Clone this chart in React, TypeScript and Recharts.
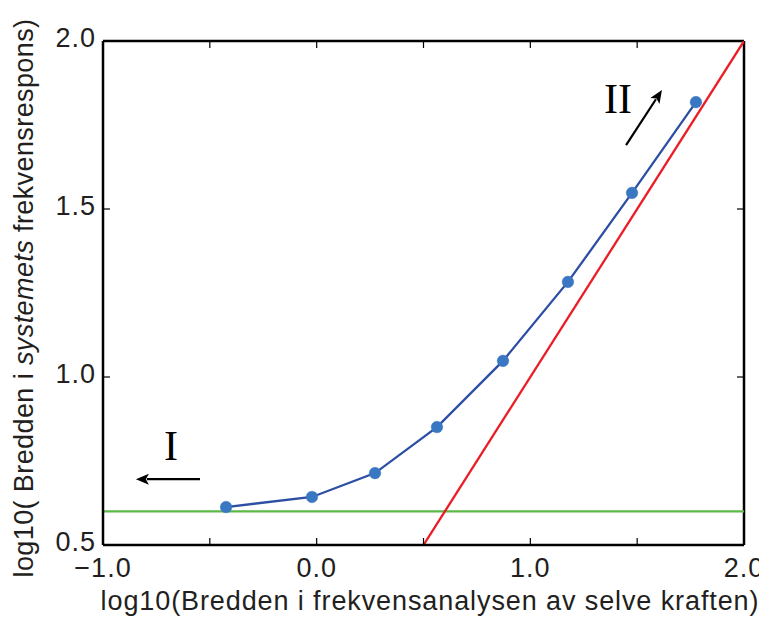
import React from 'react';
import { LineChart, Line, XAxis, YAxis, ReferenceLine, ReferenceDot } from 'recharts';

const measuredX = [-0.424, -0.022, 0.273, 0.563, 0.872, 1.176, 1.476, 1.775];
const measuredY = [0.613, 0.643, 0.714, 0.851, 1.048, 1.283, 1.548, 1.818];
const identityX = [0.5, 2.0];
const identityY = [0.5, 2.0];
const floorLevel = 0.6;
const xTicks = [-1, -0.5, 0, 0.5, 1, 1.5, 2];
const xLabelTicks = [-1, 0, 1, 2];
const yTicks = [0.5, 1.0, 1.5, 2.0];
const xMax = 2;
const yMax = 2;
const arrowI = { from: [-0.546, 0.696], to: [-0.846, 0.696], label: 'I', labelAt: [-0.682, 0.753] };
const arrowII = { from: [1.448, 1.69], to: [1.616, 1.854], label: 'II', labelAt: [1.41, 1.786] };

const measured = measuredX.map((x, i) => ({ x, y: measuredY[i] }));
const identity = identityX.map((x, i) => ({ x, y: identityY[i] }));

const SANS = "'Liberation Sans', Arial, Helvetica, sans-serif";
const SERIF = "'Liberation Serif', 'Times New Roman', serif";
const TXT = '#231f20';
const fmt = (v: number) => v.toFixed(1).replace('-', '\u2212');

const BottomTick = (p: any) => {
  const v = p.payload.value;
  const show = xLabelTicks.some((t) => Math.abs(t - v) < 1e-9);
  return (
    <g>
      <line x1={p.x} y1={p.y} x2={p.x} y2={p.y - 7} stroke="#000" strokeWidth={1.2} />
      {show && (
        <text x={p.x} y={p.y + 32} textAnchor="middle" fontSize={27} letterSpacing={1} fontFamily={SANS} fill={TXT}>
          {fmt(v)}
        </text>
      )}
    </g>
  );
};
const LeftTick = (p: any) => (
  <g>
    <line x1={p.x} y1={p.y} x2={p.x + 7} y2={p.y} stroke="#000" strokeWidth={1.2} />
    <text x={p.x - 7} y={p.y + 6} textAnchor="end" fontSize={27} letterSpacing={1} fontFamily={SANS} fill={TXT}>
      {fmt(p.payload.value)}
    </text>
  </g>
);

const TopTickShape = (p: any) => {
  const top = Math.min(p.y1, p.y2);
  return <line x1={p.x1} y1={top} x2={p.x1} y2={top + 7} stroke="#000" strokeWidth={1.2} />;
};
const RightTickShape = (p: any) => {
  const right = Math.max(p.x1, p.x2);
  return <line x1={right} y1={p.y1} x2={right - 7} y2={p.y1} stroke="#000" strokeWidth={1.2} />;
};

const Arrow = (p: any) => {
  const { x1, y1, x2, y2 } = p;
  const dx = x2 - x1;
  const dy = y2 - y1;
  const len = Math.sqrt(dx * dx + dy * dy) || 1;
  const ux = dx / len;
  const uy = dy / len;
  const hl = 13;
  const hw = 5.5;
  const bx = x2 - ux * hl;
  const by = y2 - uy * hl;
  return (
    <g>
      <line x1={x1} y1={y1} x2={bx + ux * 2} y2={by + uy * 2} stroke="#000" strokeWidth={2.2} />
      <polygon
        points={`${x2},${y2} ${bx - uy * hw},${by + ux * hw} ${bx + ux * 3},${by + uy * 3} ${bx + uy * hw},${by - ux * hw}`}
        fill="#000"
      />
    </g>
  );
};

const RomanLabel = (text: string) => (p: any) => {
  const vb = p.viewBox || {};
  const cx = vb.x + (vb.width || 0) / 2;
  const cy = vb.y + (vb.height || 0) / 2;
  return (
    <text x={cx} y={cy} textAnchor="middle" fontSize={42} fontFamily={SERIF} fill="#000">
      {text}
    </text>
  );
};

const XLabel = () => (
  <text x={422} y={602} textAnchor="middle" fontSize={27} letterSpacing={0.9} fontFamily={SANS} fill={TXT}>
    log10(Bredden i frekvensanalysen av selve kraften)
  </text>
);
const YLabel = () => (
  <text
    x={25}
    y={290}
    transform="rotate(-90 25 290)"
    textAnchor="middle"
    fontSize={27}
    letterSpacing={0.4}
    fontFamily={SANS}
    fill={TXT}
  >
    log10( Bredden i <tspan fontStyle="italic">systemets</tspan> frekvensrespons)
  </text>
);

export default function App() {
  return (
    <LineChart width={759} height={613} margin={{ top: 33, right: 23, left: 0, bottom: 0 }}>
      <XAxis
        type="number"
        dataKey="x"
        domain={[-1, 2]}
        ticks={xTicks}
        allowDataOverflow
        height={76}
        axisLine={{ stroke: '#000', strokeWidth: 2.5 }}
        tickLine={false}
        tickSize={0}
        tickMargin={0}
        tick={<BottomTick />}
        interval={0}
        label={<XLabel />}
      />
      <YAxis
        type="number"
        domain={[0.5, 2]}
        ticks={yTicks}
        allowDataOverflow
        width={95}
        axisLine={{ stroke: '#000', strokeWidth: 2.5 }}
        tickLine={false}
        tickSize={0}
        tickMargin={0}
        tick={<LeftTick />}
        interval={0}
        label={<YLabel />}
      />
      {xTicks.map((t) => (
        <ReferenceLine key={'tx' + t} x={t} shape={<TopTickShape />} />
      ))}
      {yTicks.map((t) => (
        <ReferenceLine key={'ty' + t} y={t} shape={<RightTickShape />} />
      ))}
      <ReferenceLine x={xMax} stroke="#000" strokeWidth={2.5} />
      <ReferenceLine y={yMax} stroke="#000" strokeWidth={2.5} />
      <ReferenceLine y={floorLevel} stroke="#5bb947" strokeWidth={2.3} />
      <Line
        data={identity}
        dataKey="y"
        type="linear"
        stroke="#ec1c24"
        strokeWidth={2.3}
        dot={false}
        isAnimationActive={false}
      />
      <Line
        data={measured}
        dataKey="y"
        type="linear"
        stroke="#2c4ea3"
        strokeWidth={2.3}
        dot={{ r: 5.8, fill: '#3a77c2', stroke: '#3a77c2', strokeWidth: 0.5 }}
        isAnimationActive={false}
      />
      <ReferenceLine
        segment={[
          { x: arrowI.from[0], y: arrowI.from[1] },
          { x: arrowI.to[0], y: arrowI.to[1] },
        ]}
        shape={<Arrow />}
      />
      <ReferenceLine
        segment={[
          { x: arrowII.from[0], y: arrowII.from[1] },
          { x: arrowII.to[0], y: arrowII.to[1] },
        ]}
        shape={<Arrow />}
      />
      <ReferenceDot
        x={arrowI.labelAt[0]}
        y={arrowI.labelAt[1]}
        r={0}
        fill="none"
        stroke="none"
        label={RomanLabel(arrowI.label)}
      />
      <ReferenceDot
        x={arrowII.labelAt[0]}
        y={arrowII.labelAt[1]}
        r={0}
        fill="none"
        stroke="none"
        label={RomanLabel(arrowII.label)}
      />
    </LineChart>
  );
}
